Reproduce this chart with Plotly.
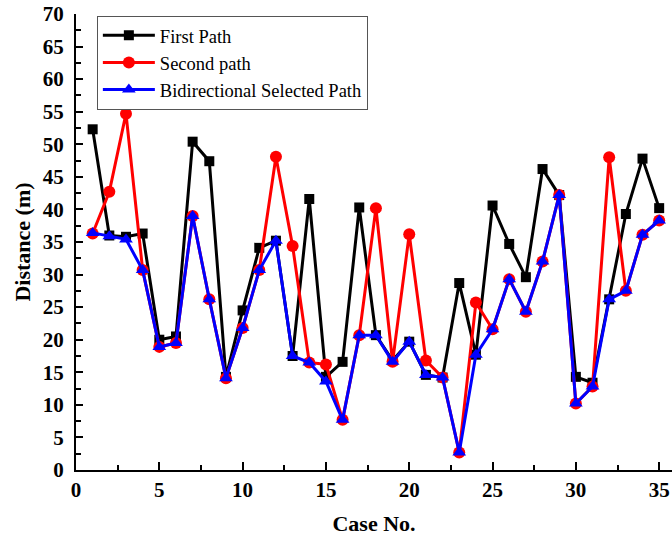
import plotly.graph_objects as go

cases = list(range(1, 36))
first_path = [52.3, 36.0, 35.8, 36.3, 20.0, 20.5, 50.4, 47.4, 14.3, 24.5,
              34.1, 35.2, 17.5, 41.6, 14.3, 16.6, 40.3, 20.7, 16.8, 19.7,
              14.6, 14.2, 28.7, 17.7, 40.6, 34.7, 29.6, 46.2, 42.2, 14.3,
              13.4, 26.2, 39.3, 47.8, 40.2]
second_path = [36.3, 42.7, 54.7, 30.7, 18.9, 19.5, 39.0, 26.2, 14.1, 21.8,
               30.7, 48.1, 34.4, 16.5, 16.2, 7.7, 20.7, 40.2, 16.6, 36.2,
               16.8, 14.2, 2.7, 25.7, 21.6, 29.3, 24.3, 32.0, 42.2, 10.2,
               12.8, 48.0, 27.5, 36.1, 38.3]
bidirectional = [36.4, 35.9, 35.4, 30.7, 18.9, 19.5, 39.0, 26.2, 14.1, 21.8,
                 30.7, 35.2, 17.5, 16.5, 13.6, 7.7, 20.7, 20.7, 16.6, 19.7,
                 14.6, 14.2, 2.7, 17.7, 21.6, 29.3, 24.3, 32.0, 42.2, 10.2,
                 12.8, 26.2, 27.5, 36.1, 38.3]

font_family = "Liberation Serif"

fig = go.Figure()
fig.add_trace(go.Scatter(x=cases, y=first_path, mode="lines+markers", name="First Path",
                         line=dict(color="black", width=3),
                         marker=dict(symbol="square", size=10, color="black")))
fig.add_trace(go.Scatter(x=cases, y=second_path, mode="lines+markers", name="Second path",
                         line=dict(color="red", width=3),
                         marker=dict(symbol="circle", size=12, color="red")))
fig.add_trace(go.Scatter(x=cases, y=bidirectional, mode="lines+markers", name="Bidirectional Selected Path",
                         line=dict(color="blue", width=3),
                         marker=dict(symbol="triangle-up", size=12, color="blue")))

fig.update_layout(
    width=672, height=537,
    margin=dict(l=76, r=0, t=14, b=67),
    plot_bgcolor="white", paper_bgcolor="white",
    font=dict(family=font_family, color="black"),
    showlegend=True,
    legend=dict(x=0.035, y=0.996, xanchor="left", yanchor="top",
                bordercolor="#555", borderwidth=1, bgcolor="white",
                font=dict(size=18.5, family=font_family),
                tracegroupgap=0, itemwidth=52),
)
fig.update_xaxes(range=[0, 35.77], tickvals=[0, 5, 10, 15, 20, 25, 30, 35],
                 showgrid=False, zeroline=False,
                 showline=True, linecolor="black", linewidth=2,
                 ticks="inside", ticklen=8, tickwidth=2, tickcolor="black",
                 minor=dict(ticks="inside", dtick=2.5, tick0=0, ticklen=5, tickwidth=2, tickcolor="black"),
                 tickfont=dict(size=21, family=font_family, weight="bold"),
                 title=dict(text="Case No.", font=dict(size=22, family=font_family, weight="bold"),
                            standoff=14))
fig.update_yaxes(range=[0, 70], tickvals=list(range(0, 71, 5)),
                 showgrid=False, zeroline=False,
                 showline=True, linecolor="black", linewidth=2,
                 ticks="inside", ticklen=7, tickwidth=2, tickcolor="black",
                 minor=dict(ticks="inside", dtick=2.5, tick0=0, ticklen=5, tickwidth=2, tickcolor="black"),
                 tickfont=dict(size=21, family=font_family, weight="bold"),
                 ticklabelstandoff=6,
                 title=dict(text="Distance (m)", font=dict(size=22, family=font_family, weight="bold"),
                            standoff=6))

fig.write_html("out.html")
